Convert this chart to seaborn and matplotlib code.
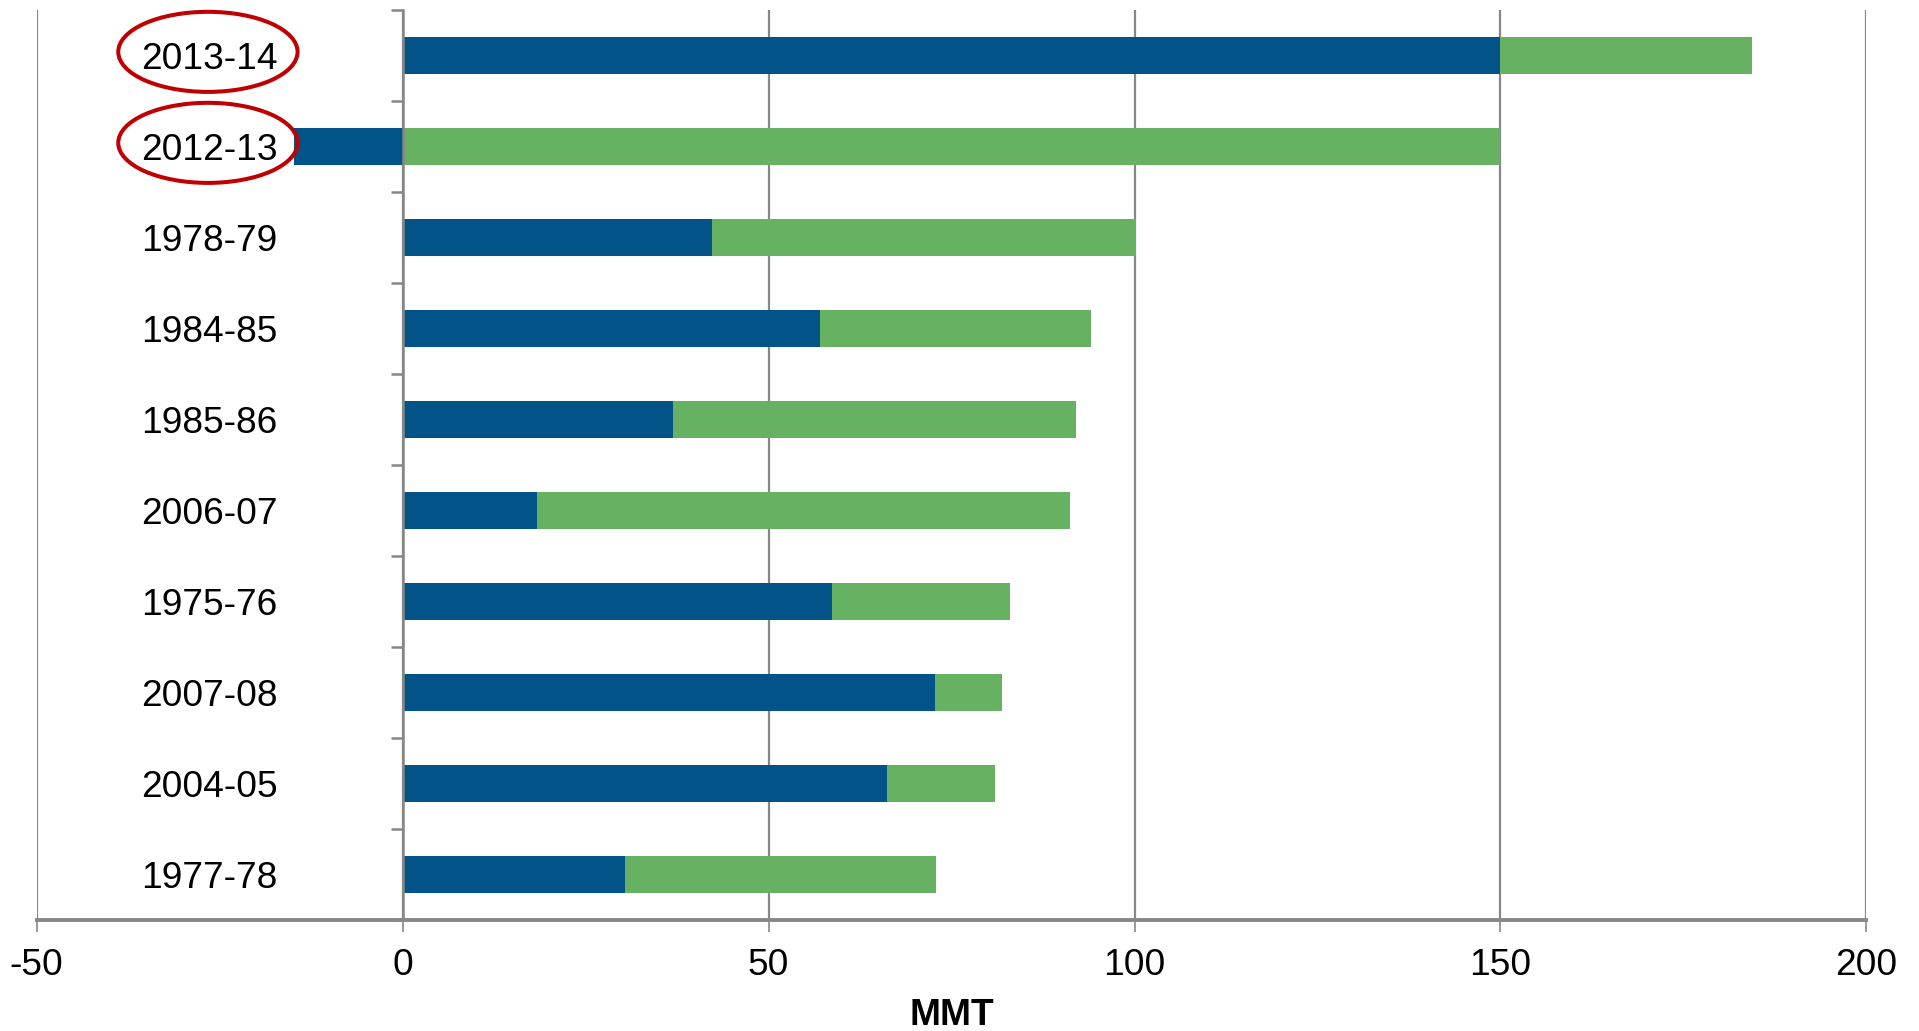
import matplotlib
matplotlib.use("Agg")
import matplotlib.pyplot as plt
from matplotlib.patches import Ellipse
from matplotlib.ticker import FixedLocator
import seaborn as sns
import pandas as pd
import numpy as np

# Marketing years, largest total first
years = ["2013-14", "2012-13", "1978-79", "1984-85", "1985-86",
         "2006-07", "1975-76", "2007-08", "2004-05", "1977-78"]
# Blue segment (MMT)
blue = [150.0, -14.8, 42.3, 57.0, 37.0, 18.3, 58.6, 72.8, 66.2, 30.4]
# Green segment (MMT)
green = [34.3, 150.0, 57.9, 37.1, 55.0, 72.9, 24.4, 9.1, 14.7, 42.5]
highlighted = ["2013-14", "2012-13"]
x_ticks = [-50, 0, 50, 100, 150, 200]

BLUE = "#025388"
GREEN = "#67B262"
GRID = "#878787"
RED = "#C00000"

sns.set_theme(style="white")
plt.rcParams["font.family"] = ["Liberation Sans", "DejaVu Sans"]
plt.rcParams["axes.unicode_minus"] = False
plt.rcParams["text.color"] = "black"
plt.rcParams["axes.labelcolor"] = "black"

df = pd.DataFrame({"year": years, "blue": blue, "green": green})
# Green stacks on the positive end of the blue segment
df["stack_end"] = df["blue"].clip(lower=0) + df["green"]

fig = plt.figure(figsize=(19.19, 10.31), dpi=100)
ax = fig.add_axes([0.0191, 0.1077, 0.9535, 0.8826])

sns.barplot(data=df, x="stack_end", y="year", orient="h", color=GREEN,
            width=0.4, saturation=1, linewidth=0, ax=ax, zorder=3)
sns.barplot(data=df, x="blue", y="year", orient="h", color=BLUE,
            width=0.4, saturation=1, linewidth=0, ax=ax, zorder=4)

ax.set_xlim(-50, 200)
ax.set_ylim(len(years) - 0.5, -0.5)
ax.set_xticks(x_ticks)
ax.set_xticklabels([str(t) for t in x_ticks])
ax.xaxis.grid(True, color=GRID, linewidth=1.6, zorder=0)
ax.yaxis.grid(False)
ax.set_axisbelow(True)

for side in ["top", "right"]:
    ax.spines[side].set_visible(False)
ax.spines["left"].set_position(("data", 0))
ax.spines["left"].set_color(GRID)
ax.spines["left"].set_linewidth(1.8)
ax.spines["left"].set_zorder(5)
ax.spines["bottom"].set_color(GRID)
ax.spines["bottom"].set_linewidth(2.8)

# Category boundary ticks on the zero axis
ax.yaxis.set_minor_locator(FixedLocator(np.arange(-0.5, len(years), 1.0)))
ax.tick_params(axis="y", which="minor", length=8.6, width=1.8, color=GRID,
               direction="out", left=True)
ax.tick_params(axis="y", which="major", length=0, pad=90, labelsize=26.7,
               labelcolor="black")
ax.tick_params(axis="x", which="major", length=8.6, width=1.2, color=GRID,
               direction="out", bottom=True, pad=11.5, labelsize=26.7,
               labelcolor="black")
ax.set_ylabel("")
ax.set_xlabel("MMT", fontsize=26.7, fontweight="bold", labelpad=11,
              color="black")

# Red rings around the two latest years
for yr in highlighted:
    i = years.index(yr)
    ax.add_patch(Ellipse((-26.6, i - 0.04), 24.5, 0.88, transform=ax.transData,
                         fill=False, edgecolor=RED, linewidth=2.9,
                         clip_on=False, zorder=6))

fig.savefig("out.png", dpi=100)
